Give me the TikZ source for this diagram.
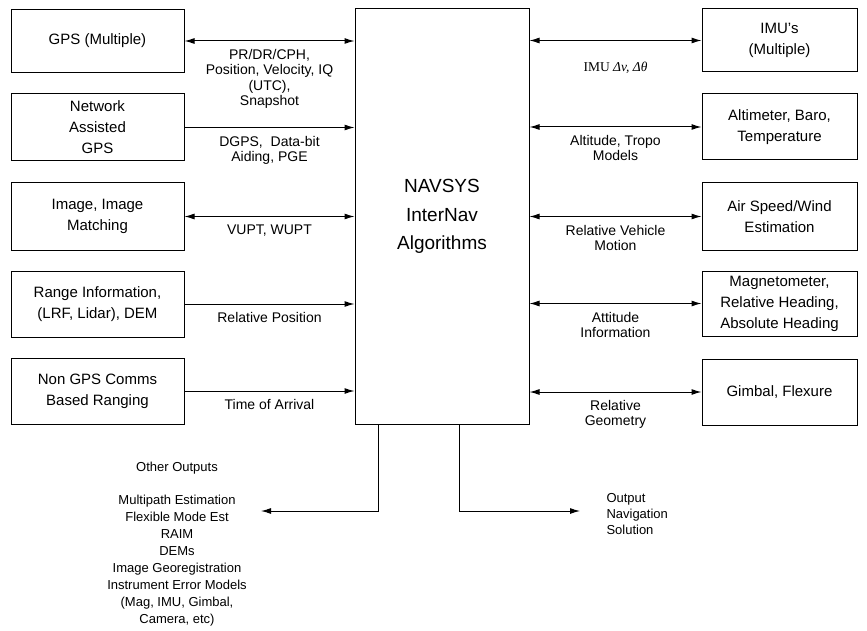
\documentclass[tikz,border=0pt]{standalone}
\usepackage{fontspec}
\setmainfont{Liberation Sans}
\newfontfamily\imufont{Liberation Serif}
\usetikzlibrary{arrows.meta}

\begin{document}
\begin{tikzpicture}[x=1pt, y=-1pt, >={Latex[length=10pt,width=6pt]}, line width=1pt,
  srcbox/.style={draw, minimum width=173pt, inner sep=2pt, align=center,
                 font=\fontsize{15}{21}\selectfont},
  sinkbox/.style={srcbox, minimum width=155pt},
  lbl/.style={below=6pt, align=center, inner sep=2pt, font=\fontsize{14}{15.2}\selectfont},
  note/.style={align=center, inner sep=0pt, font=\fontsize{13}{17}\selectfont}]

\useasboundingbox (0,0) rectangle (867,631);

% centre block
\node[draw, minimum width=174pt, minimum height=415pt, align=center,
      font=\fontsize{19}{28.5}\selectfont] (core) at (442,216.5)
  {NAVSYS\\InterNav\\Algorithms};

% sources on the left
\node[srcbox, minimum height=63pt] (gps)   at (97.5,41)    {GPS (Multiple)};
\node[srcbox, minimum height=67pt] (agps)  at (97.5,127.5) {Network\\Assisted\\GPS};
\node[srcbox, minimum height=67pt] (img)   at (97.5,216.5) {Image, Image\\Matching};
\node[srcbox, minimum height=66pt] (range) at (97.5,304)   {Range Information,\\(LRF, Lidar), DEM};
\node[srcbox, minimum height=66pt] (comms) at (97.5,391)   {Non GPS Comms\\Based Ranging};

% sensors on the right
\node[sinkbox, minimum height=63pt] (imu)  at (779.5,40.5)  {IMU's\\(Multiple)};
\node[sinkbox, minimum height=66pt] (baro) at (779.5,127)   {Altimeter, Baro,\\Temperature};
\node[sinkbox, minimum height=67pt] (air)  at (779.5,216.5) {Air Speed/Wind\\Estimation};
\node[sinkbox, minimum height=65pt] (mag)  at (779.5,303.5) {Magnetometer,\\Relative Heading,\\Absolute Heading};
\node[sinkbox, minimum height=66pt] (gimb) at (779.5,392)   {Gimbal, Flexure};

\draw[<->] (gps.east) -- (gps.east -| core.west)
  node[lbl, midway] (lgps) {PR/DR/CPH,\\Position, Velocity, IQ\\(UTC),\\Snapshot};
\draw[->] (agps.east) -- (agps.east -| core.west)
  node[lbl, midway] (lagps) {DGPS,\ \ Data-bit\\Aiding, PGE};
\draw[<->] (img.east) -- (img.east -| core.west)
  node[lbl, midway] (limg) {VUPT, WUPT};
\draw[->] (range.east) -- (range.east -| core.west)
  node[lbl, midway] (lrange) {Relative Position};
\draw[->] (comms.east) -- (comms.east -| core.west)
  node[lbl, midway] (lcomms) {Time of Arrival};

\draw[<->] (core.east |- imu.west) -- (imu.west)
  node[lbl, midway, below=13pt, font=\imufont\fontsize{13.5}{15.5}\selectfont] (limu) {IMU \textit{Δv, Δθ}};
\draw[<->] (core.east |- baro.west) -- (baro.west)
  node[lbl, midway] (lbaro) {Altitude, Tropo\\Models};
\draw[<->] (core.east |- air.west) -- (air.west)
  node[lbl, midway] (lair) {Relative Vehicle\\Motion};
\draw[<->] (core.east |- mag.west) -- (mag.west)
  node[lbl, midway] (lmag) {Attitude\\Information};
\draw[<->] (core.east |- gimb.west) -- (gimb.west)
  node[lbl, midway] (lgimb) {Relative\\Geometry};

% outputs
\coordinate (othend) at (261,511);
\coordinate (solend) at (580,511);
\draw[->] ([xshift=24pt]core.south west) |- (othend);
\draw[->] ([xshift=105pt]core.south west) |- (solend);

\node[note] (othtitle) at (177,468) {Other Outputs};
\node[note] (othlist) at (177,560.5) {Multipath Estimation\\Flexible Mode Est\\RAIM\\DEMs\\Image Georegistration\\Instrument Error Models\\(Mag, IMU, Gimbal,\\Camera, etc)};
\node[note, align=left, anchor=west, font=\fontsize{13}{16}\selectfont] (navsol) at (606,514) {Output\\Navigation\\Solution};

\end{tikzpicture}
\end{document}
